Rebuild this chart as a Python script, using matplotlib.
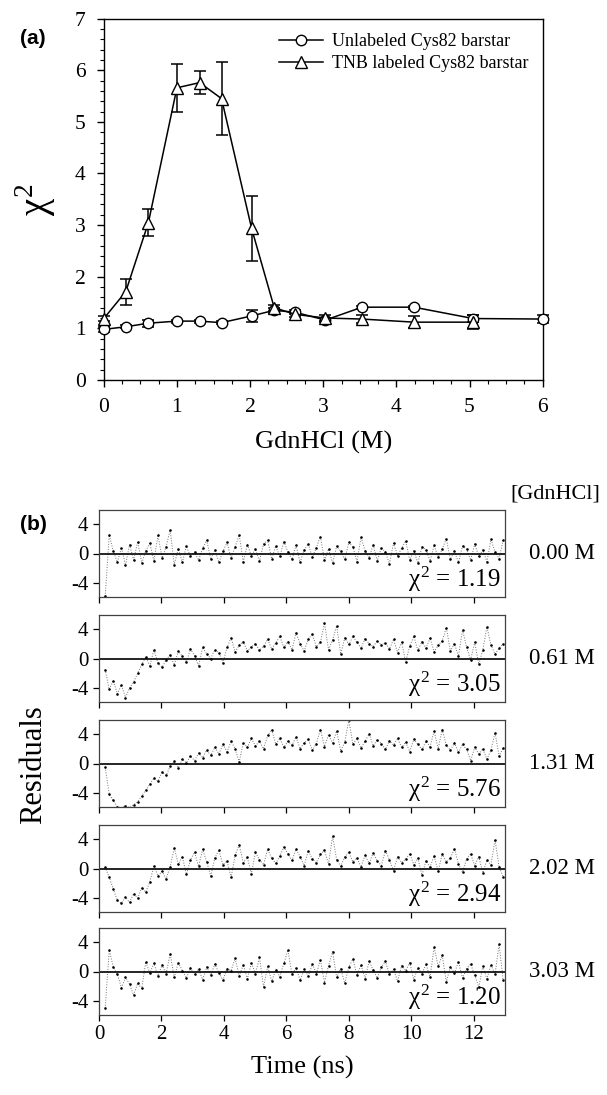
import matplotlib
matplotlib.use("Agg")
import matplotlib.pyplot as plt
import matplotlib.ticker as mticker

plt.rcParams['font.family'] = ['Liberation Serif', 'DejaVu Serif']
plt.rcParams['mathtext.fontset'] = 'custom'
plt.rcParams['mathtext.rm'] = 'Liberation Serif'
plt.rcParams['mathtext.it'] = 'Liberation Serif'
plt.rcParams['axes.unicode_minus'] = False

# ---- panel (a): chi-square vs denaturant ----
gdn_unlab = [0.0, 0.30, 0.61, 1.00, 1.31, 1.61, 2.02, 2.33, 2.62, 3.03, 3.53, 4.24, 5.05, 6.0]
chi_unlab = [0.98, 1.03, 1.10, 1.14, 1.14, 1.11, 1.24, 1.35, 1.31, 1.16, 1.41, 1.41, 1.19, 1.18]
err_unlab = [0.05, 0.03, 0.07, 0.03, 0.03, 0.03, 0.12, 0.05, 0.04, 0.04, 0.03, 0.03, 0.06, 0.07]

gdn_tnb = [0.0, 0.30, 0.61, 1.00, 1.31, 1.61, 2.02, 2.33, 2.62, 3.03, 3.53, 4.24, 5.05]
chi_tnb = [1.19, 1.71, 3.05, 5.66, 5.76, 5.45, 2.94, 1.40, 1.27, 1.20, 1.18, 1.12, 1.12]
err_tnb = [0.05, 0.25, 0.27, 0.46, 0.23, 0.70, 0.63, 0.06, 0.05, 0.06, 0.08, 0.11, 0.14]

# ---- panel (b): residuals ----
time_ns = [0.20, 0.33, 0.46, 0.59, 0.72, 0.85, 0.98, 1.11, 1.24, 1.37,
           1.50, 1.63, 1.76, 1.89, 2.02, 2.15, 2.28, 2.41, 2.54, 2.67,
           2.80, 2.93, 3.06, 3.19, 3.32, 3.45, 3.58, 3.71, 3.84, 3.97,
           4.10, 4.23, 4.36, 4.49, 4.62, 4.75, 4.88, 5.01, 5.14, 5.27,
           5.40, 5.53, 5.66, 5.79, 5.92, 6.05, 6.18, 6.31, 6.44, 6.57,
           6.70, 6.83, 6.96, 7.09, 7.22, 7.35, 7.48, 7.61, 7.74, 7.87,
           8.00, 8.13, 8.26, 8.39, 8.52, 8.65, 8.78, 8.91, 9.04, 9.17,
           9.30, 9.43, 9.56, 9.69, 9.82, 9.95, 10.08, 10.21, 10.34, 10.47,
           10.60, 10.73, 10.86, 10.99, 11.12, 11.25, 11.38, 11.51, 11.64, 11.77,
           11.90, 12.03, 12.16, 12.29, 12.42, 12.55, 12.68, 12.81, 12.94]

res_000 = [-5.8, 2.5, 0.3, -1.2, 0.8, -1.6, 1.2, -0.9, 1.6, -1.3,
           0.4, 1.4, -1.0, 2.5, -0.6, 0.9, 3.2, -1.5, 0.6, -1.2,
           1.0, -0.4, 0.2, -0.9, 0.7, 1.8, -0.8, 0.5, -1.2, 0.3,
           1.5, -0.6, 0.9, 2.5, -1.1, 1.2, -0.3, 0.6, -1.0, 1.3,
           1.8, -0.7, 1.0, -0.4, 1.6, 0.2, -0.8, 1.1, -1.2, 0.5,
           1.3, -0.5, 0.8, 2.3, -0.9, 0.6, -1.3, 1.0, 0.3, -0.8,
           1.5, 0.9, -1.1, 2.2, 0.4, -0.6, 1.2, -1.0, 0.8, 0.2,
           -1.4, 1.4, -0.3, 0.7, 1.7, -0.9, 0.4, -1.3, 0.9, 0.5,
           -1.0, 1.1, -0.5, 0.6, 2.0, -0.8, 0.3, -1.2, 1.0, 0.6,
           -0.9, 1.3, -0.4, 0.5, -1.1, 1.9, 0.2, -0.7, 1.8]

res_061 = [-1.5, -4.2, -3.0, -4.8, -3.6, -5.3, -4.0, -3.2, -2.0, -0.8,
           0.2, -1.0, 1.2, -0.6, -1.2, -0.2, 0.5, -0.9, 1.0, 0.3,
           -0.5, 1.3, 0.4, -1.0, 1.5, 0.6, 0.0, 1.2, 0.8, -0.6,
           1.5, 2.8, 0.9, 1.8, 2.3, 1.0, 1.6, 2.0, 1.1, 1.7,
           2.6, 1.3, 2.1, 3.0, 1.5, 2.3, 1.2, 3.5, 2.0, 1.0,
           2.6, 3.3, 1.6, 2.2, 4.8, 1.2, 2.5, 4.4, 0.6, 2.8,
           1.9, 3.0, 2.2, 1.4, 2.7, 2.0, 1.6, 2.4, 1.8, 2.1,
           1.3, 2.6, 0.8, 2.2, -0.5, 1.7, 3.0, 1.1, 2.3, 1.4,
           2.8, 0.9, 1.8, 2.4, 4.2, 1.0, 2.0, 0.3, 3.9, 1.5,
           -0.2, 2.2, -0.8, 1.2, 4.3, 1.8, 0.6, 1.4, 2.0]

res_131 = [-0.5, -4.2, -5.0, -5.9, -6.0, -5.7, -6.0, -5.6, -5.2, -4.4,
           -3.6, -2.8, -2.0, -2.4, -1.2, -1.6, -0.4, 0.3, -0.6, 0.6,
           0.1, 1.0, 0.4, 1.4, 0.8, 1.8, 1.1, 2.2, 1.3, 2.6,
           1.6, 3.0, 2.0, 0.2, 2.8, 2.2, 3.4, 2.4, 3.0, 2.0,
           3.8, 4.6, 2.6, 3.4, 2.2, 3.0, 2.5, 3.6, 2.0, 2.8,
           3.3, 1.8, 2.7, 4.6, 2.3, 3.9, 2.8, 4.4, 1.7, 2.9,
           5.9, 2.6, 3.4, 2.1, 3.0, 4.0, 2.4, 3.2, 2.7, 1.9,
           3.1, 2.5, 3.4, 2.2, 2.9, 1.6, 3.3, 2.6, 1.9, 3.0,
           2.3, 4.4, 2.0, 4.6, 2.5, 1.8, 2.8, 1.5, 2.6, 1.9,
           0.4, 2.2, 1.3, 2.0, 0.6, 1.8, 4.2, 1.0, 2.1]

res_202 = [0.2, -1.2, -2.8, -4.3, -4.7, -3.9, -4.6, -3.4, -4.0, -2.6,
           -3.2, -1.8, 0.4, -1.0, -0.4, -1.4, 0.2, 2.8, 0.6, 1.6,
           -0.8, 1.2, 2.2, 0.3, 2.6, 0.9, -1.0, 1.4, 2.5, 0.5,
           1.0, -1.2, 1.8, 3.2, 0.8, 1.5, -0.7, 2.2, 1.2, 0.5,
           2.6, 1.4, 0.7, 1.7, 2.9, 2.0, 1.1, 2.6, 1.6, 0.4,
           2.4, 1.3, 0.8, 1.9, 2.5, 0.6, 4.4, 1.2, 0.3, 1.6,
           2.2, 0.9, 1.4, 0.2, 1.8, 0.7, 2.1, 1.0, 0.4, 2.4,
           1.2, -0.3, 1.6, 0.8, 1.3, 2.0, 0.5, 1.4, -0.9, 1.0,
           0.2, 1.7, -0.4, 2.0, 0.9, 1.4, 2.7, 0.6, -0.5, 1.3,
           2.0, 0.4, 1.6, -0.6, 1.1, 0.5, 3.9, 0.2, -1.1]

res_303 = [-5.0, 2.9, 0.6, -0.4, -2.2, -0.8, -1.7, -3.2, -1.6, -2.3,
           1.3, -0.2, 1.1, -0.6, 0.9, -0.3, 2.4, -0.8, 1.2, 0.1,
           -0.9, 0.5, -0.4, 0.3, -1.1, 0.6, -0.5, 1.0, -0.2, -1.2,
           0.4, 0.1, 1.8, -0.6, 0.9, -1.0, 1.2, -0.3, 1.9, -2.1,
           0.7, -1.3, 0.2, -0.7, 1.1, 2.9, -0.4, 0.5, -1.2, 0.3,
           -0.6, 1.0, -0.3, 1.6, -1.5, 0.8, 2.7, -0.8, 0.4, -1.6,
           0.6, 1.7, -0.5, 0.9, -1.0, 1.4, 0.2, -0.9, 0.6, 1.4,
           -0.4, 0.3, -1.3, 0.8, 0.1, 1.2, -1.1, 0.5, -0.3, 1.0,
           -0.8, 3.3, 0.7, 2.2, -1.4, 0.6, -0.2, 1.3, -0.9, 0.4,
           1.0, -0.5, -2.1, 0.7, -1.0, 0.9, -0.4, 3.7, -1.2]

residual_sets = [res_000, res_061, res_131, res_202, res_303]
conc_labels = ['0.00 M', '0.61 M', '1.31 M', '2.02 M', '3.03 M']
chi_labels = ['1.19', '3.05', '5.76', '2.94', '1.20']

fig = plt.figure(figsize=(6.07, 10.95), dpi=100)

# panel (a)
ax = fig.add_axes([0.171, 0.653, 0.723, 0.330])
ax.errorbar(gdn_unlab, chi_unlab, yerr=err_unlab, fmt='none', ecolor='black',
            capsize=4.5, elinewidth=1.1, capthick=1.1, clip_on=False, zorder=2)
ax.errorbar(gdn_tnb, chi_tnb, yerr=err_tnb, fmt='none', ecolor='black',
            capsize=4.5, elinewidth=1.1, capthick=1.1, clip_on=False, zorder=2)
ax.plot(gdn_unlab, chi_unlab, color='black', lw=1.1, marker='o', ms=7.5,
        mfc='white', mec='black', mew=1.0, label='Unlabeled Cys82 barstar',
        clip_on=False, zorder=3)
ax.plot(gdn_tnb, chi_tnb, color='black', lw=1.1, marker='^', ms=8,
        mfc='white', mec='black', mew=1.0, label='TNB labeled Cys82 barstar',
        clip_on=False, zorder=3)
ax.set_xlim(0, 6)
ax.set_ylim(0, 7)
ax.xaxis.set_major_locator(mticker.MultipleLocator(1))
ax.xaxis.set_minor_locator(mticker.MultipleLocator(0.25))
ax.yaxis.set_major_locator(mticker.MultipleLocator(1))
ax.yaxis.set_minor_locator(mticker.MultipleLocator(0.2))
ax.tick_params(which='major', direction='out', length=5, width=1, labelsize=15.5, pad=8)
ax.tick_params(which='minor', direction='out', length=3, width=0.8)
for sp in ax.spines.values():
    sp.set_linewidth(1.0)
ax.set_xlabel('GdnHCl (M)', fontsize=19, labelpad=10)
ax.set_ylabel(r'$\chi^2$', fontsize=28, labelpad=12)
leg = ax.legend(loc='upper right', frameon=False, fontsize=13,
                handlelength=2.4, borderaxespad=0.4, labelspacing=0.3,
                handletextpad=0.5)
fig.text(0.033, 0.965, '(a)', fontsize=15, fontweight='bold',
         family=['Liberation Sans', 'DejaVu Sans'], va='center')

# panel (b)
tops = [510, 615, 720, 825, 928]
axes_b = []
for k, top in enumerate(tops):
    bottom = 1 - (top + 87) / 1095
    axb = fig.add_axes([0.163, bottom, 0.669, 87 / 1095])
    axb.plot(time_ns, residual_sets[k], ls=':', lw=0.7, color='0.45')
    axb.plot(time_ns, residual_sets[k], ls='none', marker='.', ms=1.7,
             color='black')
    axb.axhline(0, color='black', lw=1.2)
    axb.set_xlim(0, 13)
    axb.set_ylim(-5.9, 5.9)
    axb.set_yticks([-4, 0, 4])
    axb.set_xticks([0, 2, 4, 6, 8, 10, 12])
    axb.tick_params(direction='out', length=4, width=0.9, labelsize=15)
    if k < 4:
        axb.tick_params(labelbottom=False)
    for sp in axb.spines.values():
        sp.set_linewidth(0.9)
        sp.set_color('0.25')
    axb.text(0.99, 0.03, r'$\chi^2$ = ' + chi_labels[k], transform=axb.transAxes,
             ha='right', va='bottom', fontsize=18)
    axb.text(1.14, 0.5, conc_labels[k], transform=axb.transAxes,
             ha='center', va='center', fontsize=16.5)
    axes_b.append(axb)

axes_b[-1].set_xlabel('Time (ns)', fontsize=19, labelpad=8)
fig.text(0.055, 1 - 765 / 1095, 'Residuals', rotation=90, fontsize=22,
         ha='center', va='center')
fig.text(0.915, 1 - 494 / 1095, '[GdnHCl]', fontsize=16, ha='center', va='center')
fig.text(0.033, 1 - 524 / 1095, '(b)', fontsize=15, fontweight='bold',
         family=['Liberation Sans', 'DejaVu Sans'], va='center')

fig.savefig('out.png', dpi=100)
